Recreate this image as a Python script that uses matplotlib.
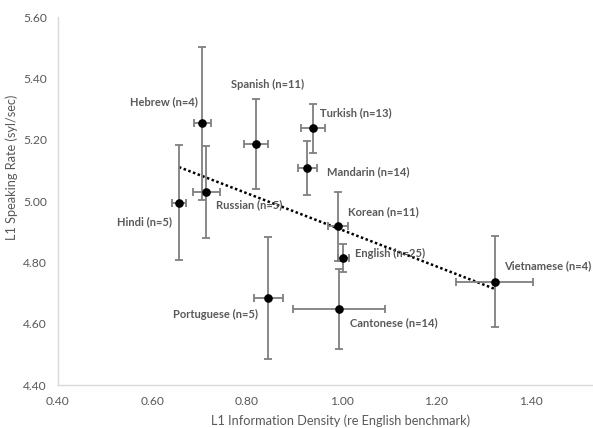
import matplotlib
matplotlib.use("Agg")
import matplotlib.pyplot as plt
import numpy as np

# L1 data per language
languages = ["Hebrew", "Spanish", "Turkish", "Mandarin", "Hindi", "Russian",
             "Korean", "English", "Cantonese", "Portuguese", "Vietnamese"]
n_speakers = [4, 11, 13, 14, 5, 5, 11, 25, 14, 5, 4]
info_density = [0.705, 0.819, 0.940, 0.928, 0.656, 0.714,
                0.993, 1.004, 0.995, 0.845, 1.324]
density_err = [0.018, 0.025, 0.025, 0.020, 0.015, 0.028,
               0.021, 0.011, 0.098, 0.031, 0.082]
speak_rate = [5.253, 5.185, 5.237, 5.109, 4.995, 5.028,
              4.917, 4.815, 4.648, 4.684, 4.737]
rate_err = [0.250, 0.147, 0.080, 0.088, 0.188, 0.150,
            0.113, 0.045, 0.130, 0.200, 0.149]

# label placement (pixels from point, alignment)
label_pos = {
    "Hebrew": (-4, 22, "right"),
    "Spanish": (12, 60, "center"),
    "Turkish": (7, 16, "left"),
    "Mandarin": (20, -4, "left"),
    "Hindi": (-7, -19, "right"),
    "Russian": (10, -12, "left"),
    "Korean": (10, 15, "left"),
    "English": (12, 4, "left"),
    "Cantonese": (11, -14, "left"),
    "Portuguese": (-10, -17, "right"),
    "Vietnamese": (9, 16, "left"),
}

GRAY = "#595959"
plt.rcParams["font.family"] = ["Lato", "DejaVu Sans"]

fig = plt.figure(figsize=(5.93, 4.28), dpi=100)
ax = fig.add_axes([58 / 593, 1 - 385 / 428, 567 / 593, (385 - 17) / 428])

ax.errorbar(info_density, speak_rate, xerr=density_err, yerr=rate_err,
            fmt="o", color="black", markersize=5.2, ecolor="#7f7f7f",
            elinewidth=1.3, capsize=3, capthick=1.3, zorder=3)

# linear trendline over data range
coef = np.polyfit(info_density, speak_rate, 1)
tx = np.array([min(info_density), max(info_density)])
ax.plot(tx, np.polyval(coef, tx), linestyle=(0, (1, 1)), color="black",
        linewidth=1.8, zorder=2)

for lang, n, x, y in zip(languages, n_speakers, info_density, speak_rate):
    dx, dy, ha = label_pos[lang]
    ax.annotate(f"{lang} (n={n})", (x, y), xytext=(dx, dy),
                textcoords="offset pixels", ha=ha, va="center",
                fontsize=8, fontweight="bold", color=GRAY)

ax.set_xlim(0.4, 1.6)
ax.set_ylim(4.4, 5.6)
ax.set_xticks(np.arange(0.4, 1.41, 0.2))
ax.set_yticks(np.arange(4.4, 5.61, 0.2))
ax.xaxis.set_major_formatter(matplotlib.ticker.FormatStrFormatter("%.2f"))
ax.yaxis.set_major_formatter(matplotlib.ticker.FormatStrFormatter("%.2f"))
ax.tick_params(length=0, labelsize=8.7, labelcolor=GRAY, pad=8)
for side in ["top", "right"]:
    ax.spines[side].set_visible(False)
for side in ["left", "bottom"]:
    ax.spines[side].set_color("#d9d9d9")
    ax.spines[side].set_linewidth(1)

fig.text(341 / 593, 1 - 421 / 428, "L1 Information Density (re English benchmark)",
         ha="center", va="center", fontsize=9.2, color=GRAY)
fig.text(12 / 593, 1 - 167 / 428, "L1 Speaking Rate (syl/sec)", rotation=90,
         ha="center", va="center", fontsize=9.2, color=GRAY)

fig.savefig("out.png", dpi=100)
